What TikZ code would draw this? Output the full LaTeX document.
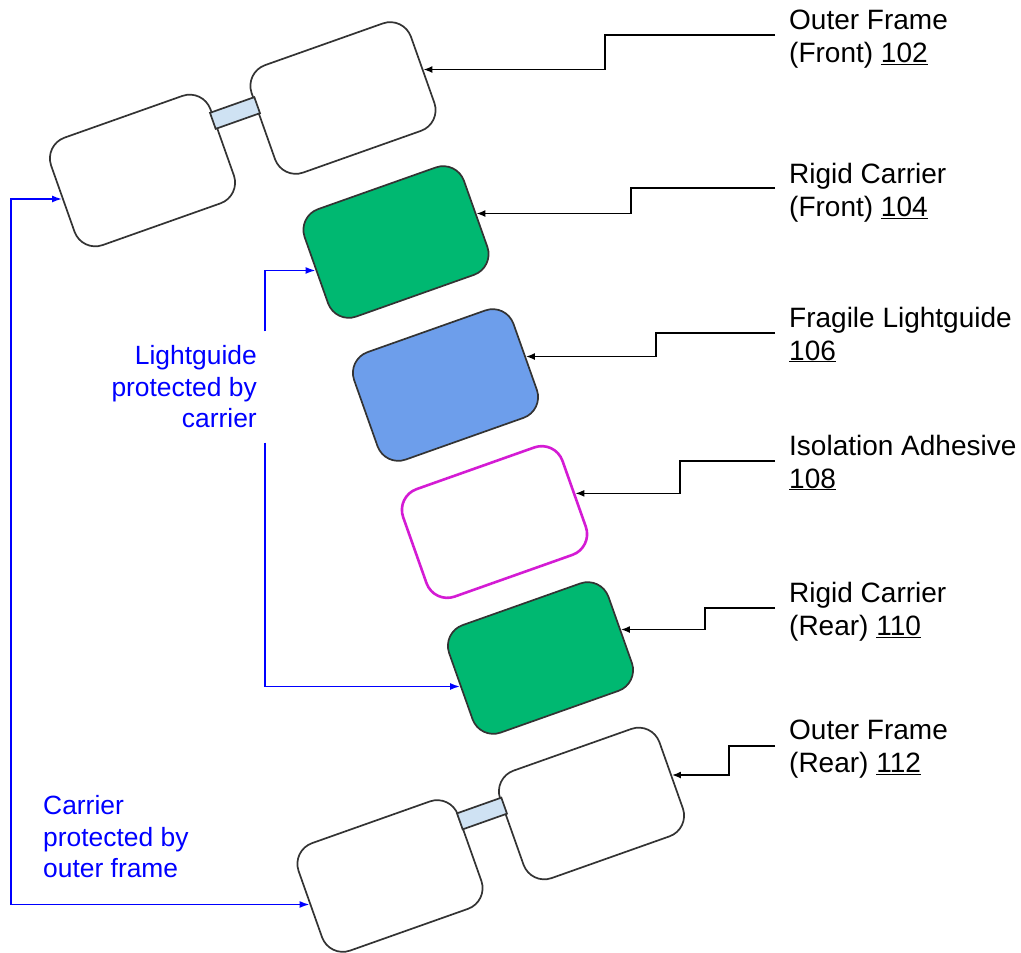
\documentclass[tikz,border=0pt]{standalone}
\usepackage{fontspec}
\setmainfont{Liberation Sans}
\usetikzlibrary{arrows.meta}
\definecolor{color_green}{HTML}{00B871}
\definecolor{color_guide}{HTML}{6D9EEB}
\definecolor{color_glue}{HTML}{D41BD4}
\definecolor{color_bridge}{HTML}{CFE2F3}
\definecolor{color_line}{HTML}{333333}
\definecolor{color_note}{HTML}{0000FF}
\tikzset{
  part_blob/.style={draw=color_line, line width=1.7pt, rounded corners=22pt, fill=white, rotate=19.5, minimum width=169pt, minimum height=114pt, inner sep=0pt},
  bridge_bar/.style={draw=color_line, line width=1.7pt, fill=color_bridge, rotate=19.5, minimum width=47pt, minimum height=17pt, inner sep=0pt},
  part_label/.style={font=\fontsize{28}{33}\selectfont, align=left, anchor=west, inner xsep=14pt, inner ysep=0pt, text=black},
  note_label/.style={font=\fontsize{26.4}{31.5}\selectfont, text=color_note, inner ysep=0pt},
  leader_arrow/.style={-{Latex[length=9pt, width=7pt]}, draw=black, line width=1.5pt},
  note_arrow/.style={-{Latex[length=10pt, width=7pt]}, draw=color_note, line width=1.6pt},
}
\begin{document}
\begin{tikzpicture}[x=1pt, y=-1pt]
    \useasboundingbox (0,0) rectangle (1021,953);
    % Stack of parts, front to rear
    \node[part_blob] (frame_front_l) at (142.5,170.5) {};
    \node[part_blob] (frame_front_r) at (343,98) {};
    \node[bridge_bar] (bridge_front) at (235,113) {};
    \node[part_blob, fill=color_green] (carrier_front) at (396,242) {};
    \node[part_blob, fill=color_guide] (guide) at (445.5,385) {};
    \node[part_blob, draw=color_glue, line width=2.6pt] (glue) at (494.5,522) {};
    \node[part_blob, fill=color_green] (carrier_rear) at (540.5,658) {};
    \node[part_blob] (frame_rear_l) at (390,876) {};
    \node[part_blob] (frame_rear_r) at (591.5,803.5) {};
    \node[bridge_bar] (bridge_rear) at (482,813.5) {};
    % Labels on the right
    \node[part_label] (lbl_102) at (775,39) {Outer Frame\\(Front) \underline{102}};
    \node[part_label] (lbl_104) at (775,192.5) {Rigid Carrier\\(Front) \underline{104}};
    \node[part_label] (lbl_106) at (775,334.5) {Fragile Lightguide\\\underline{106}};
    \node[part_label] (lbl_108) at (775,462.5) {Isolation Adhesive\\\underline{108}};
    \node[part_label] (lbl_110) at (775,611.5) {Rigid Carrier\\(Rear) \underline{110}};
    \node[part_label] (lbl_112) at (775,749) {Outer Frame\\(Rear) \underline{112}};
    \draw[leader_arrow] ([yshift=4pt]lbl_102.west) -- ++(-170,0) |- (frame_front_r.east);
    \draw[leader_arrow] ([yshift=4.5pt]lbl_104.west) -- ++(-144,0) |- (carrier_front.east);
    \draw[leader_arrow] ([yshift=1.5pt]lbl_106.west) -- ++(-119,0) |- (guide.east);
    \draw[leader_arrow] ([yshift=1.5pt]lbl_108.west) -- ++(-95,0) |- (glue.east);
    \draw[leader_arrow] ([yshift=3.5pt]lbl_110.west) -- ++(-70,0) |- (carrier_rear.east);
    \draw[leader_arrow] ([yshift=3pt]lbl_112.west) -- ++(-46,0) |- (frame_rear_r.east);
    % Blue notes
    \node[note_label, align=right, anchor=east, inner xsep=8pt, minimum height=111pt] (note_guide) at (265,387) {Lightguide\\protected by\\carrier};
    \node[note_label, align=left, anchor=west, inner xsep=14pt] (note_frame) at (29,837) {Carrier\\protected by\\outer frame};
    \draw[note_arrow] (note_guide.north east) |- (carrier_front.west);
    \draw[note_arrow] (note_guide.south east) |- (carrier_rear.west);
    \draw[note_arrow, {Latex[length=10pt, width=7pt]}-{Latex[length=10pt, width=7pt]}] (frame_front_l.west) -- ++(-51,0) |- (frame_rear_l.west);
  \end{tikzpicture}
\end{document}
